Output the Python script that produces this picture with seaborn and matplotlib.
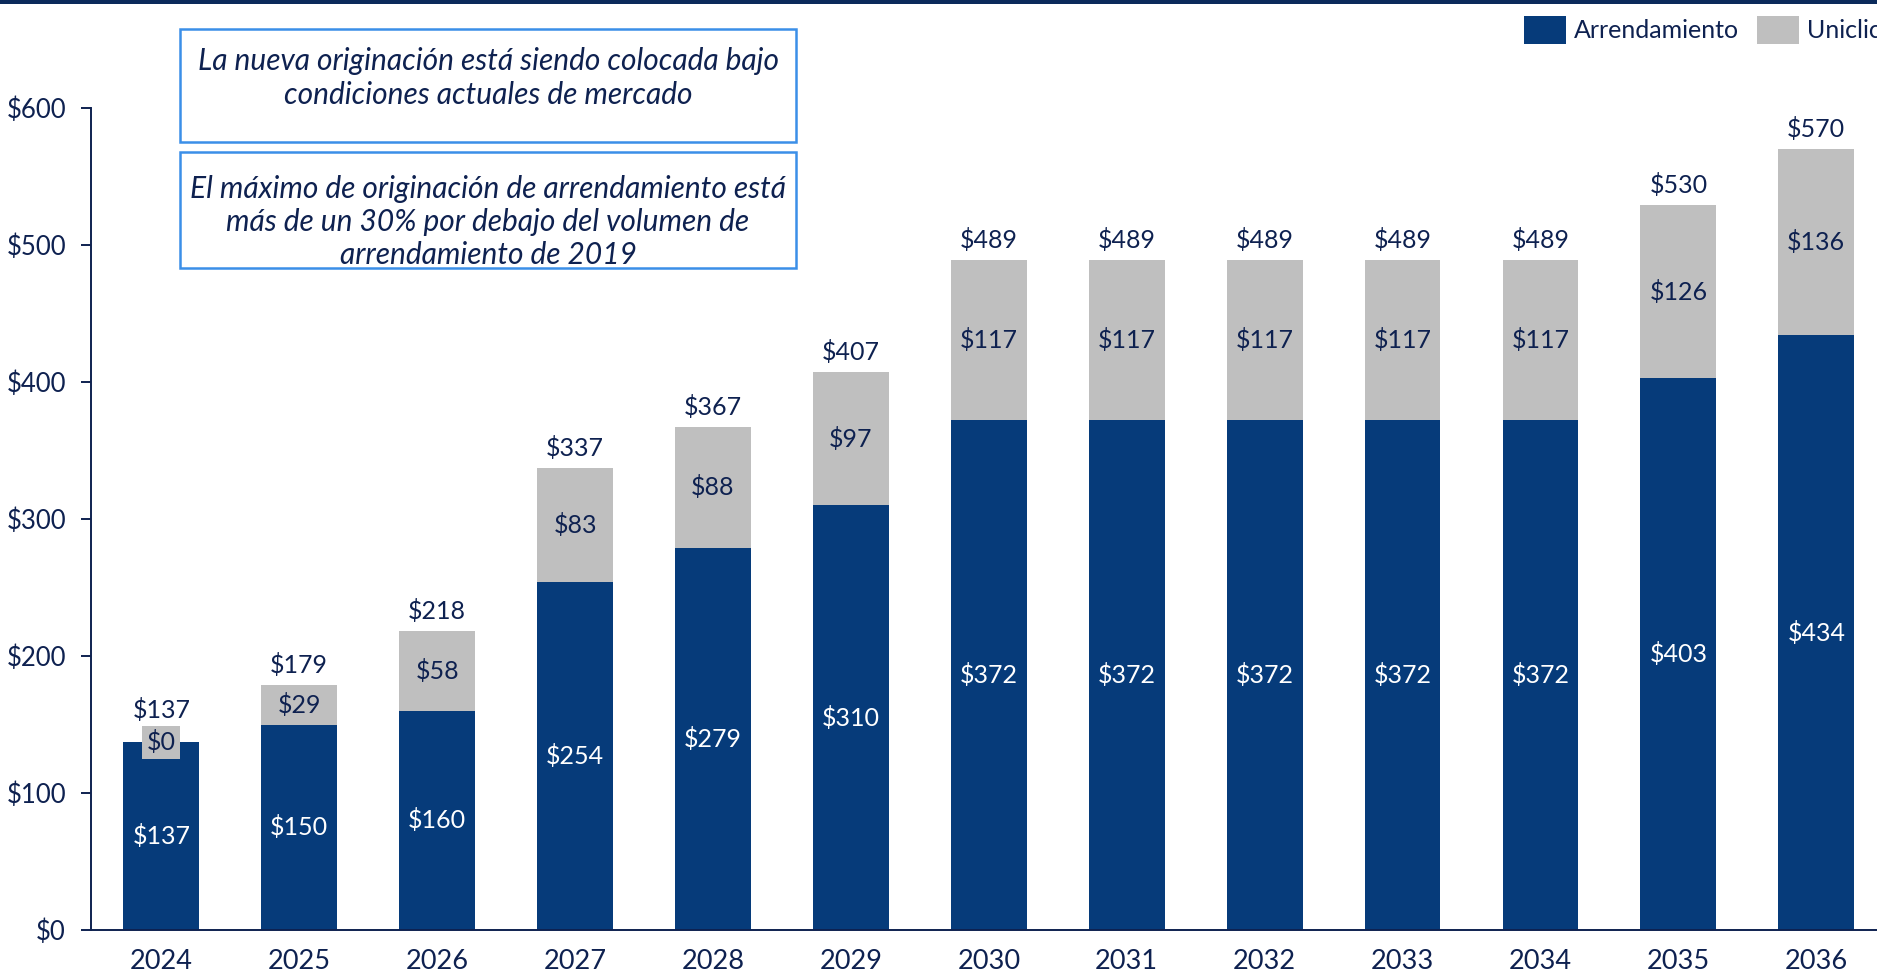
import matplotlib
matplotlib.use("Agg")
import matplotlib.pyplot as plt
import seaborn as sns
import pandas as pd
from matplotlib.patches import Patch, Rectangle

years = ["2024", "2025", "2026", "2027", "2028", "2029", "2030",
         "2031", "2032", "2033", "2034", "2035", "2036"]
arrendamiento = [137, 150, 160, 254, 279, 310, 372, 372, 372, 372, 372, 403, 434]
uniclic = [0, 29, 58, 83, 88, 97, 117, 117, 117, 117, 117, 126, 136]
totals = [137, 179, 218, 337, 367, 407, 489, 489, 489, 489, 489, 530, 570]
yticks = [0, 100, 200, 300, 400, 500, 600]
box_texts = [
    "La nueva originación está siendo colocada bajo\ncondiciones actuales de mercado",
    "El máximo de originación de arrendamiento está\nmás de un 30% por debajo del volumen de\narrendamiento de 2019",
]

BLUE = "#063B7A"
GRAY = "#BFBFBF"
NAVY = "#0E2150"
BOXEDGE = "#3B8FE8"

sns.set_theme(style="white")
plt.rcParams["font.family"] = ["Lato", "DejaVu Sans"]

df = pd.DataFrame({"year": years, "arr": arrendamiento, "uni": uniclic})
df["stack"] = df["arr"] + df["uni"]

fig = plt.figure(figsize=(18.77, 9.71), dpi=100)
ax = fig.add_axes([91 / 1877, 41 / 971, 1 - 91 / 1877, 822 / 971])

sns.barplot(data=df, x="year", y="stack", color=GRAY, width=0.55, ax=ax,
            saturation=1, errorbar=None, linewidth=0)
sns.barplot(data=df, x="year", y="arr", color=BLUE, width=0.55, ax=ax,
            saturation=1, errorbar=None, linewidth=0)

ax.set_ylim(0, 600)
ax.set_xlim(-0.51, 12.44)
ax.set_yticks(yticks)
ax.set_yticklabels([f"${v}" for v in yticks])
ax.set_xlabel("")
ax.set_ylabel("")
for s in ["top", "right"]:
    ax.spines[s].set_visible(False)
for s in ["left", "bottom"]:
    ax.spines[s].set_color(NAVY)
    ax.spines[s].set_linewidth(1.4)
ax.tick_params(axis="y", which="both", left=True, length=7, width=1.4,
               color=NAVY, labelsize=18.5, labelcolor=NAVY, pad=11)
ax.tick_params(axis="x", which="both", bottom=False, labelsize=19.5,
               labelcolor=NAVY, pad=8)

lab = 18
for i, (a, u, t) in enumerate(zip(arrendamiento, uniclic, totals)):
    ax.text(i, a / 2, f"${a}", ha="center", va="center", color="white", fontsize=lab)
    if u == 0:
        ax.text(i, a + u / 2, f"${u}", ha="center", va="center", color=NAVY,
                fontsize=lab, bbox=dict(boxstyle="square,pad=0.18", fc=GRAY, ec="none"))
        ty = a + 15
    else:
        ax.text(i, a + u / 2, f"${u}", ha="center", va="center", color=NAVY, fontsize=lab)
        ty = a + u + 6
    ax.text(i, ty, f"${t}", ha="center", va="bottom", color=NAVY, fontsize=lab)

# top rule
fig.add_artist(Rectangle((0, 1 - 4 / 971), 1, 4 / 971, transform=fig.transFigure,
                         color="#0B2A5B", lw=0))

# annotation boxes
boxes = [(180, 29, 796, 142), (180, 152, 796, 268)]
text_cy = [78, 222]
spacings = [1.22, 1.22]
for (x0, y0, x1, y1), txt, cy, ls in zip(boxes, box_texts, text_cy, spacings):
    fig.add_artist(Rectangle((x0 / 1877, 1 - y1 / 971), (x1 - x0) / 1877, (y1 - y0) / 971,
                             transform=fig.transFigure, fill=False, ec=BOXEDGE, lw=1.8))
    fig.text((x0 + x1) / 2 / 1877, 1 - cy / 971, txt, ha="center", va="center",
             fontsize=21.5, style="italic", color=NAVY, linespacing=ls)

handles = [Patch(facecolor=BLUE, edgecolor="none", label="Arrendamiento"),
           Patch(facecolor=GRAY, edgecolor="none", label="Uniclic")]
fig.legend(handles=handles, loc="upper left", bbox_to_anchor=(1524 / 1877, 1 - 16 / 971),
           ncol=2, frameon=False, fontsize=18, labelcolor=NAVY, handlelength=1.68,
           handleheight=1.35, handletextpad=0.3, columnspacing=0.75, borderpad=0,
           borderaxespad=0)

fig.savefig("out.png", dpi=100)
